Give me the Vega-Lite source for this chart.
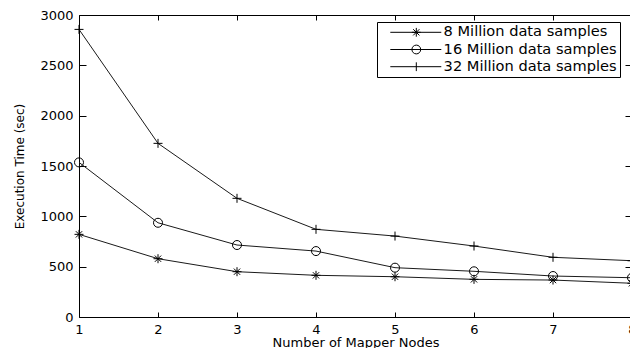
{
  "$schema": "https://vega.github.io/schema/vega-lite/v6.json",
  "width": 553,
  "height": 302,
  "autosize": "none",
  "padding": {"left": 79, "top": 15, "right": 0, "bottom": 31},
  "background": "white",
  "config": {
    "view": {"stroke": "black", "strokeWidth": 1},
    "font": "DejaVu Sans",
    "axis": {"labelColor": "black", "tickColor": "black", "titleColor": "black", "grid": false, "domain": false, "labelFlush": false, "labelOverlap": false, "titleFontWeight": "normal", "format": "d"},
    "legend": {"strokeColor": "black", "fillColor": "white", "padding": 3, "cornerRadius": 0, "labelFontSize": 14.6, "labelColor": "black", "labelLimit": 400, "symbolSize": 64, "symbolStrokeColor": "black", "symbolStrokeWidth": 1, "symbolOpacity": 1, "symbolFillColor": "transparent", "labelOffset": 49, "rowPadding": 2.2}
  },
  "data": {
    "values": [
      {"series": "8 Million data samples", "nodes": 1, "time": 821},
      {"series": "8 Million data samples", "nodes": 2, "time": 579},
      {"series": "8 Million data samples", "nodes": 3, "time": 450},
      {"series": "8 Million data samples", "nodes": 4, "time": 414},
      {"series": "8 Million data samples", "nodes": 5, "time": 400},
      {"series": "8 Million data samples", "nodes": 6, "time": 374},
      {"series": "8 Million data samples", "nodes": 7, "time": 367},
      {"series": "8 Million data samples", "nodes": 8, "time": 335},
      {"series": "16 Million data samples", "nodes": 1, "time": 1536},
      {"series": "16 Million data samples", "nodes": 2, "time": 936},
      {"series": "16 Million data samples", "nodes": 3, "time": 715},
      {"series": "16 Million data samples", "nodes": 4, "time": 655},
      {"series": "16 Million data samples", "nodes": 5, "time": 490},
      {"series": "16 Million data samples", "nodes": 6, "time": 454},
      {"series": "16 Million data samples", "nodes": 7, "time": 407},
      {"series": "16 Million data samples", "nodes": 8, "time": 390},
      {"series": "32 Million data samples", "nodes": 1, "time": 2857},
      {"series": "32 Million data samples", "nodes": 2, "time": 1725},
      {"series": "32 Million data samples", "nodes": 3, "time": 1179},
      {"series": "32 Million data samples", "nodes": 4, "time": 871},
      {"series": "32 Million data samples", "nodes": 5, "time": 804},
      {"series": "32 Million data samples", "nodes": 6, "time": 705},
      {"series": "32 Million data samples", "nodes": 7, "time": 593},
      {"series": "32 Million data samples", "nodes": 8, "time": 559}
    ]
  },
  "layer": [
    {
      "mark": {"type": "line", "color": "#1a1a1a", "strokeWidth": 1},
      "encoding": {
        "x": {"field": "nodes", "type": "quantitative", "scale": {"domain": [1, 8], "nice": false, "zero": false},
          "axis": {"orient": "bottom", "title": "Number of Mapper Nodes", "values": [1, 2, 3, 4, 5, 6, 7, 8], "tickSize": -5, "labelPadding": 11, "labelFontSize": 13, "titleFontSize": 13, "titleY": 29, "titleBaseline": "alphabetic"}},
        "y": {"field": "time", "type": "quantitative", "scale": {"domain": [0, 3000], "nice": false},
          "axis": {"orient": "left", "title": "Execution Time (sec)", "values": [0, 500, 1000, 1500, 2000, 2500, 3000], "tickSize": -7, "labelPadding": 13, "labelFontSize": 13, "titleFontSize": 12, "titleX": -60, "titleY": 151, "titleAngle": -90, "titleAlign": "center", "titleBaseline": "middle"}},
        "detail": {"field": "series"}
      }
    },
    {
      "mark": {"type": "point", "filled": false, "color": "black", "size": 81, "strokeWidth": 1, "opacity": 1},
      "encoding": {
        "x": {"field": "nodes", "type": "quantitative", "scale": {"domain": [1, 8], "nice": false, "zero": false},
          "axis": {"orient": "top", "title": null, "labels": false, "values": [1, 2, 3, 4, 5, 6, 7, 8], "tickSize": -5}},
        "y": {"field": "time", "type": "quantitative", "scale": {"domain": [0, 3000], "nice": false},
          "axis": {"orient": "right", "title": null, "labels": false, "values": [0, 500, 1000, 1500, 2000, 2500, 3000], "tickSize": -7}},
        "shape": {"field": "series", "type": "nominal",
          "scale": {"domain": ["8 Million data samples", "16 Million data samples", "32 Million data samples"],
                    "range": ["M-1,0L1,0M0,-1L0,1M-0.7,-0.7L0.7,0.7M-0.7,0.7L0.7,-0.7", "circle", "M-1,0L1,0M0,-1L0,1"]},
          "legend": null}
      }
    },
    {
      "mark": {"type": "point", "filled": false, "color": "black", "size": 64, "strokeWidth": 1, "opacity": 0},
      "encoding": {
        "x": {"field": "nodes", "type": "quantitative", "axis": null},
        "y": {"field": "time", "type": "quantitative", "axis": null},
        "shape": {"field": "series", "type": "nominal",
          "scale": {"domain": ["8 Million data samples", "16 Million data samples", "32 Million data samples"],
                    "range": ["M0.75,0L13.5,0M7.25,-1.1L7.25,1.1M6.15,0L8.35,0M6.47,-0.78L8.03,0.78M6.47,0.78L8.03,-0.78", "M0.75,0L13.5,0M6.15,0A1.1,1.1 0 1,1 8.35,0A1.1,1.1 0 1,1 6.15,0", "M0.75,0L13.5,0M7.25,-1.1L7.25,1.1"]},
          "legend": {"title": null, "orient": "none", "legendX": 298, "legendY": 7, "symbolOpacity": 1}}
      }
    }
  ],
  "resolve": {"axis": {"x": "independent", "y": "independent"}, "scale": {"shape": "independent"}}
}
